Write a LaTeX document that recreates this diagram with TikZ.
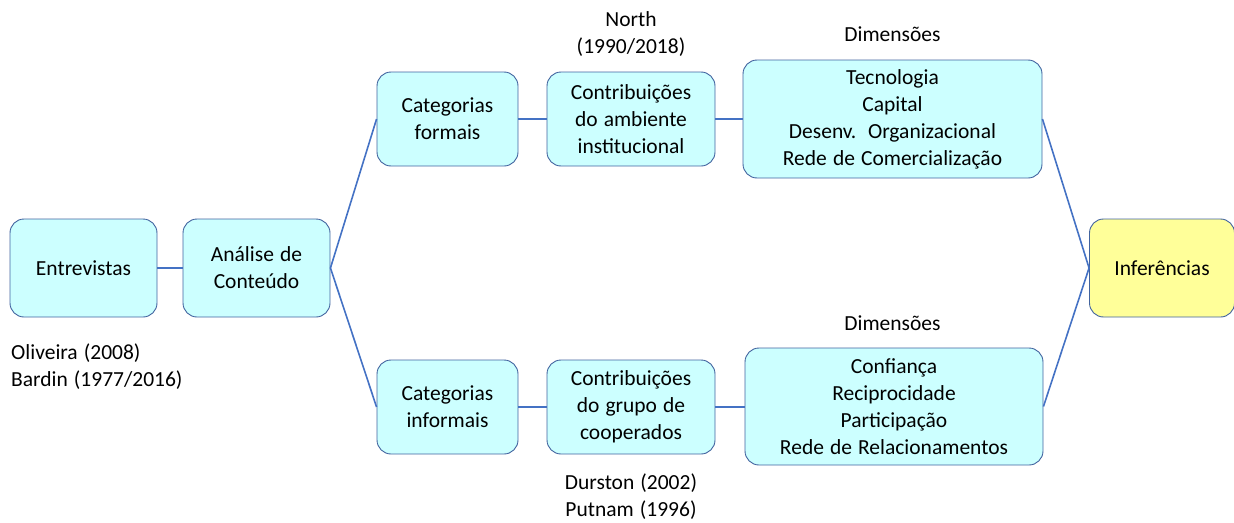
\documentclass[tikz,border=0pt]{standalone}
\usepackage{fontspec}
\setmainfont[WordSpace=1.25]{Carlito}
\begin{document}
\definecolor{boxfill}{HTML}{CCFFFF}
\definecolor{infill}{HTML}{FFFF99}
\definecolor{boxline}{HTML}{41639F}
\definecolor{linkcol}{HTML}{4472C4}
\tikzset{
  every node/.style={font=\fontsize{21.5}{27}\selectfont, align=center, inner sep=0pt},
  procbox/.style={draw=boxline, line width=0.9pt, fill=boxfill, rounded corners=14pt},
  link/.style={draw=linkcol, line width=2pt},
  thinlink/.style={draw=linkcol, line width=1.6pt},
  note/.style={text=black},
}
\begin{tikzpicture}[x=1pt,y=-1pt]
\useasboundingbox (0,0) rectangle (1234,522);

% main boxes
\node[procbox, minimum width=147pt, minimum height=98pt] (ent) at (83.5,268) {Entrevistas};
\node[procbox, minimum width=147pt, minimum height=98pt] (ana) at (256.5,268) {Análise de\\Conteúdo};
\node[procbox, minimum width=141pt, minimum height=94pt] (catf) at (447.5,119) {Categorias\\formais};
\node[procbox, minimum width=168pt, minimum height=94pt] (conf) at (631,119) {Contribuições\\do ambiente\\institucional};
\node[procbox, minimum width=299pt, minimum height=118pt] (dimf) at (892.5,119) {Tecnologia\\Capital\\Desenv.\hspace{4pt} Organizacional\\Rede de Comercialização};
\node[procbox, minimum width=141pt, minimum height=94pt] (cati) at (447.5,407) {Categorias\\informais};
\node[procbox, minimum width=168pt, minimum height=94pt] (coni) at (631,407) {Contribuições\\do grupo de\\cooperados};
\node[procbox, minimum width=298pt, minimum height=117pt] (dimi) at (894,406.5) {Confiança\\Reciprocidade\\Participação\\Rede de Relacionamentos};
\node[procbox, fill=infill, minimum width=145pt, minimum height=98pt] (inf) at (1162,268) {Inferências};

% references and labels
\node[note] (north) at (631,34) {North\\(1990/2018)};
\node[note] (dimtop) at (892.5,34) {Dimensões};
\node[note] (dimbot) at (892.5,323) {Dimensões};
\node[note] (durs) at (631,496.5) {Durston (2002)\\Putnam (1996)};
\node[note, anchor=west, align=left] (oliv) at (11,366.5) {Oliveira (2008)\\Bardin (1977/2016)};

% connectors
\draw[thinlink] (ent.east) -- (ana.west);
\draw[thinlink] (ana.east) -- (catf.west);
\draw[thinlink] (ana.east) -- (cati.west);
\draw[link] (catf.east) -- (conf.west);
\draw[link] (conf.east) -- (dimf.west);
\draw[link] (cati.east) -- (coni.west);
\draw[link] (coni.east) -- (coni.east -| dimi.west);
\draw[thinlink] (dimf.east) -- (inf.west);
\draw[thinlink] (dimi.east) -- (inf.west);
\end{tikzpicture}
\end{document}
